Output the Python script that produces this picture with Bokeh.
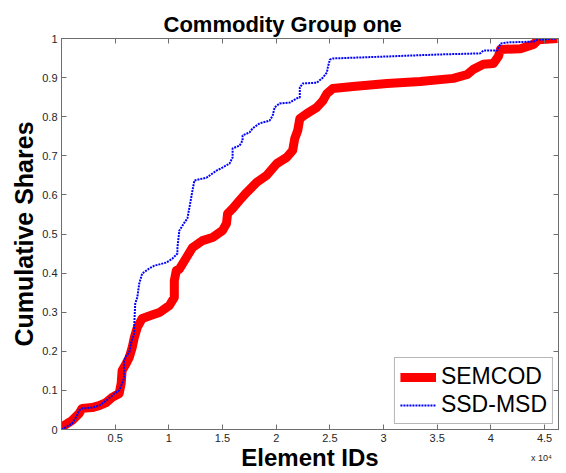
import math
from bokeh.plotting import figure
from bokeh.models import (Range1d, FixedTicker, LinearAxis, Legend, LegendItem, Title)
from bokeh.embed import file_html
from bokeh.resources import INLINE

# ---- data ----
semcod_x = [0, 230, 980, 1640, 1920, 2850, 3500, 4160, 4720, 5370,
            5560, 5650, 6030, 6310, 6590, 6780, 7060, 7520, 8360, 9110,
            10050, 10510, 10510, 10700, 10980, 11640, 12200, 13130, 14070, 15000,
            15370, 15470, 15940, 16590, 17240, 18180, 19110, 20050, 20980, 21540,
            21730, 22010, 22200, 22850, 23790, 24350, 24720, 25280, 27150, 30330,
            33410, 36500, 37800, 38360, 39300, 40230, 40700, 40890, 42760, 43970,
            44440, 46200]
semcod_y = [0, 0.010, 0.023, 0.041, 0.054, 0.056, 0.061, 0.069, 0.082, 0.092,
            0.118, 0.151, 0.169, 0.184, 0.210, 0.235, 0.261, 0.284, 0.292, 0.299,
            0.317, 0.338, 0.381, 0.407, 0.410, 0.440, 0.465, 0.483, 0.491, 0.509,
            0.527, 0.552, 0.565, 0.586, 0.606, 0.632, 0.650, 0.680, 0.696, 0.714,
            0.744, 0.765, 0.795, 0.808, 0.824, 0.841, 0.859, 0.872, 0.877, 0.885,
            0.890, 0.898, 0.908, 0.921, 0.934, 0.936, 0.954, 0.972, 0.974, 0.985,
            0.997, 1.0]

ssd_x = [0, 980, 1450, 1640, 1920, 2850, 3500, 4160, 4630, 4910,
         5370, 5650, 5840, 5840, 6030, 6310, 6500, 6780, 6780, 6870,
         7060, 7240, 7520, 8180, 8650, 9770, 10330, 10800, 10800, 10980,
         11450, 11730, 11920, 12200, 12380, 13500, 14440, 15000, 15650, 15940,
         15940, 16590, 16870, 16870, 17520, 17800, 18460, 19390, 19670, 19860,
         20330, 21260, 21920, 22200, 22200, 22480, 23790, 24350, 24720, 24810,
         25000, 25280, 30330, 35000, 39020, 39300, 40610, 40890, 41540, 43970,
         44350, 46200]
ssd_y = [0, 0.015, 0.036, 0.049, 0.054, 0.056, 0.061, 0.074, 0.084, 0.092,
         0.100, 0.118, 0.133, 0.176, 0.189, 0.197, 0.223, 0.246, 0.271, 0.322,
         0.338, 0.373, 0.399, 0.412, 0.419, 0.427, 0.437, 0.450, 0.465, 0.509,
         0.529, 0.540, 0.568, 0.611, 0.637, 0.644, 0.662, 0.670, 0.680, 0.696,
         0.719, 0.726, 0.739, 0.752, 0.760, 0.770, 0.783, 0.790, 0.803, 0.824,
         0.834, 0.836, 0.847, 0.849, 0.875, 0.885, 0.887, 0.900, 0.913, 0.926,
         0.946, 0.949, 0.954, 0.959, 0.962, 0.969, 0.969, 0.987, 0.990, 0.992,
         0.997, 1.0]

x_ticks = [5000, 10000, 15000, 20000, 25000, 30000, 35000, 40000, 45000]
x_tick_labels = ["0.5", "1", "1.5", "2", "2.5", "3", "3.5", "4", "4.5"]
y_ticks = [0, 0.1, 0.2, 0.3, 0.4, 0.5, 0.6, 0.7, 0.8, 0.9, 1.0]
y_tick_labels = ["0", "0.1", "0.2", "0.3", "0.4", "0.5", "0.6", "0.7", "0.8", "0.9", "1"]
x_exponent_pos = [44700]
x_exponent_label = ["x 10\u2074"]

FONT = "Liberation Sans"
AX_COLOR = "#6e6e6e"
LBL_COLOR = "#262626"

p = figure(width=566, height=473, output_backend="svg", toolbar_location=None,
           x_range=Range1d(0, 46300), y_range=Range1d(0, 1),
           min_border_left=61, min_border_right=8, min_border_top=38,
           min_border_bottom=44)
p.background_fill_color = "white"
p.border_fill_color = "white"
p.outline_line_color = AX_COLOR
p.outline_line_width = 1
p.xgrid.visible = False
p.ygrid.visible = False

p.title = Title(text="Commodity Group one", align="left", offset=102,
                text_font=FONT, text_font_size="22px", text_font_style="bold",
                text_color="black", standoff=4)

def style_axis(ax, ticks, labels, show_labels=True):
    ax.ticker = FixedTicker(ticks=ticks)
    ax.major_label_overrides = {t: (l if show_labels else "") for t, l in zip(ticks, labels)}
    ax.major_tick_in = 5
    ax.major_tick_out = 0
    ax.minor_tick_line_color = None
    ax.axis_line_color = AX_COLOR
    ax.major_tick_line_color = AX_COLOR
    ax.major_label_text_font = FONT
    ax.major_label_text_font_size = "11px" if show_labels else "1px"
    ax.major_label_text_color = LBL_COLOR
    ax.major_label_standoff = 4 if show_labels else 0
    ax.axis_label = None

style_axis(p.xaxis[0], x_ticks, x_tick_labels)
style_axis(p.yaxis[0], y_ticks, y_tick_labels)

# y axis label
yax = p.yaxis[0]
yax.axis_label = "Cumulative Shares"
yax.axis_label_text_font = FONT
yax.axis_label_text_font_size = "25px"
yax.axis_label_text_font_style = "bold"
yax.axis_label_text_color = "black"
yax.axis_label_standoff = 1

# second bottom axis: exponent note and the x axis title
xax2 = LinearAxis()
xax2.ticker = FixedTicker(ticks=x_exponent_pos)
xax2.major_label_overrides = {x_exponent_pos[0]: x_exponent_label[0]}
xax2.axis_line_color = None
xax2.major_tick_line_color = None
xax2.minor_tick_line_color = None
xax2.major_tick_in = 0
xax2.major_tick_out = 0
xax2.major_label_standoff = 8
xax2.major_label_text_font = FONT
xax2.major_label_text_font_size = "9px"
xax2.major_label_text_color = LBL_COLOR
xax2.axis_label = "Element IDs"
xax2.axis_label_text_font = FONT
xax2.axis_label_text_font_size = "24px"
xax2.axis_label_text_font_style = "bold"
xax2.axis_label_text_color = "black"
xax2.axis_label_standoff = -22
p.add_layout(xax2, "below")

top_ax = LinearAxis()
style_axis(top_ax, x_ticks, x_tick_labels, show_labels=False)
p.add_layout(top_ax, "above")
right_ax = LinearAxis()
style_axis(right_ax, y_ticks, y_tick_labels, show_labels=False)
p.add_layout(right_ax, "right")

r_sem = p.line(semcod_x, semcod_y, line_color="#ff0000", line_width=9, line_join="round")
r_ssd = p.line(ssd_x, ssd_y, line_color="#0000ff", line_width=2, line_dash="2 1")

legend = Legend(items=[LegendItem(label="SEMCOD", renderers=[r_sem]),
                       LegendItem(label="SSD-MSD", renderers=[r_ssd])],
                location="bottom_right")
legend.label_text_font = FONT
legend.label_text_font_size = "23px"
legend.label_text_color = "black"
legend.glyph_width = 36
legend.glyph_height = 20
legend.label_height = 20
legend.label_standoff = 5
legend.padding = 5
legend.spacing = 1
legend.margin = 5
legend.border_line_color = AX_COLOR
legend.border_line_width = 1
legend.background_fill_color = "white"
legend.background_fill_alpha = 1
p.add_layout(legend, "center")

open("out.html", "w").write(file_html(p, INLINE))
